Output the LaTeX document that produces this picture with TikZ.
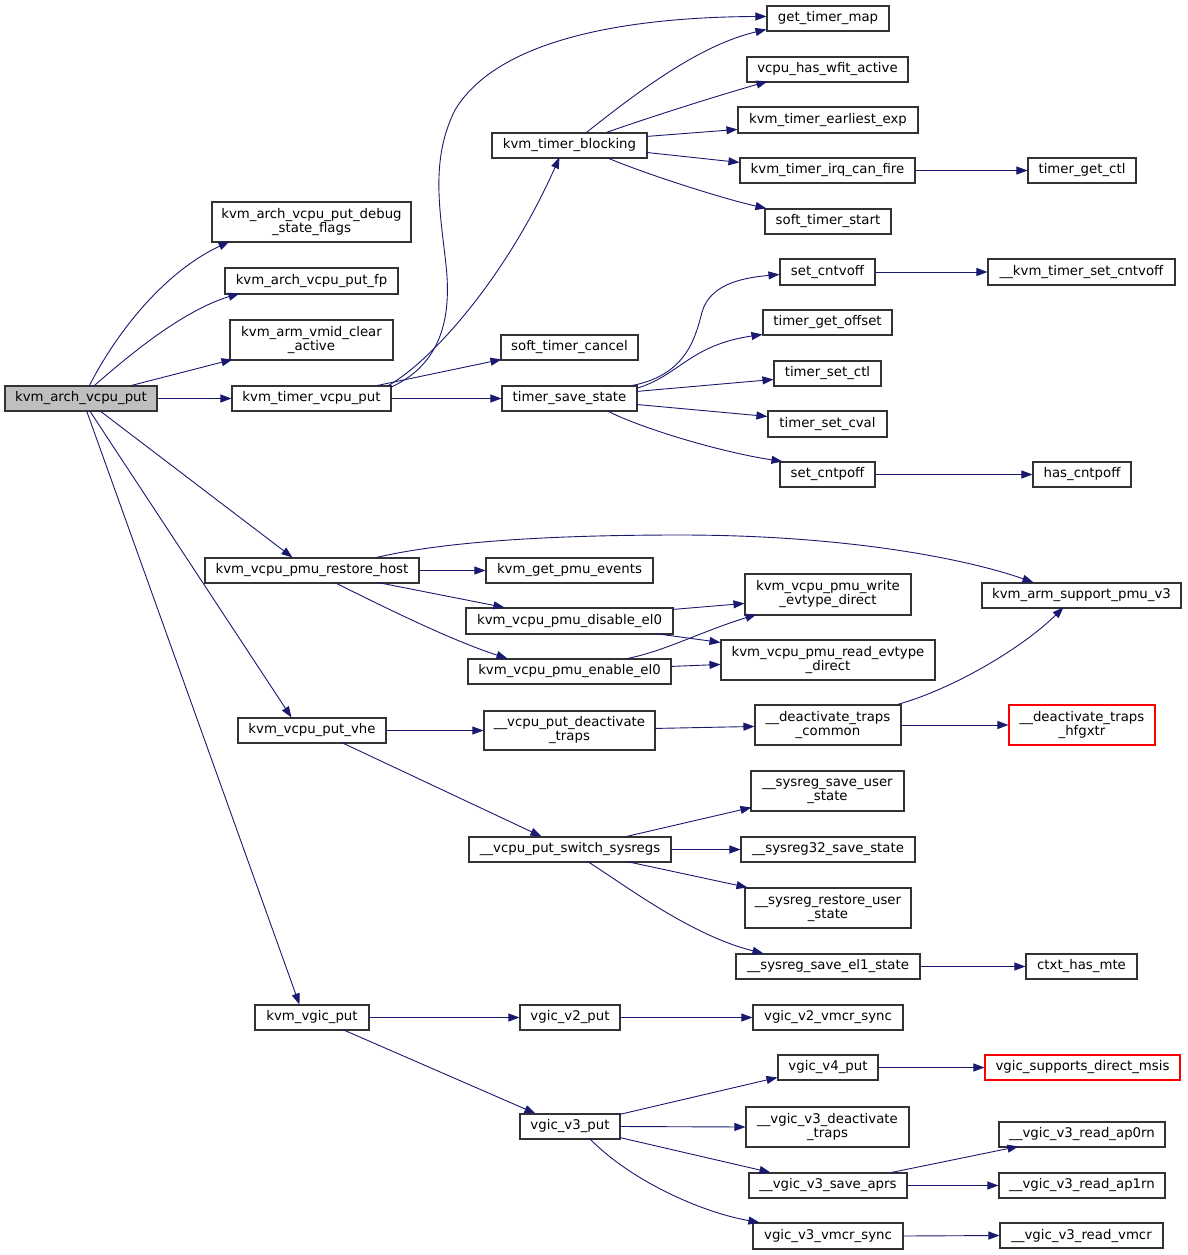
\documentclass[tikz,border=0pt]{standalone}
\usepackage{fontspec}
\setmainfont{DejaVu Sans}
\usetikzlibrary{arrows.meta}
\definecolor{edgec}{HTML}{191970}
\definecolor{nodeb}{HTML}{333333}
\definecolor{rootfill}{HTML}{BFBFBF}
\definecolor{redb}{HTML}{FF0000}
\begin{document}
\begin{tikzpicture}[x=1pt,y=-1pt,
  box/.style={draw=nodeb, line width=1.1pt, fill=white, inner sep=0pt, align=center,
    font=\fontsize{13.3}{14}\selectfont},
  sz/.style 2 args={minimum width=#1pt, minimum height=#2pt},
  root/.style={fill=rootfill},
  missing/.style={draw=redb},
  e/.style={draw=edgec, line width=0.9pt, -{Triangle[length=11pt,width=8pt]}, fill=none}]
\fill[white] (0,0) rectangle (1187,1255);
\useasboundingbox (0,0) rectangle (1187,1255);

% nodes
\node[box,root,sz={152}{25}] (A) at (81,398.5) {kvm\_arch\_vcpu\_put};
\node[box,sz={199}{40}] (B1) at (311.5,222) {kvm\_arch\_vcpu\_put\_debug\\\_state\_flags};
\node[box,sz={173}{26}] (B2) at (311.5,281) {kvm\_arch\_vcpu\_put\_fp};
\node[box,sz={163}{40}] (B3) at (311.5,340) {kvm\_arm\_vmid\_clear\\\_active};
\node[box,sz={159}{25}] (T) at (311.5,398.5) {kvm\_timer\_vcpu\_put};
\node[box,sz={155}{25}] (TB) at (569.5,145.5) {kvm\_timer\_blocking};
\node[box,sz={137}{25}] (SC) at (569.5,347.5) {soft\_timer\_cancel};
\node[box,sz={135}{25}] (TS) at (569.5,398.5) {timer\_save\_state};
\node[box,sz={122}{25}] (GM) at (828,18.5) {get\_timer\_map};
\node[box,sz={161}{25}] (WF) at (827.5,69.5) {vcpu\_has\_wfit\_active};
\node[box,sz={180}{26}] (EE) at (828,120) {kvm\_timer\_earliest\_exp};
\node[box,sz={175}{25}] (IF) at (827.5,170.5) {kvm\_timer\_irq\_can\_fire};
\node[box,sz={108}{25}] (GC) at (1082,170.5) {timer\_get\_ctl};
\node[box,sz={126}{25}] (ST) at (828,221.5) {soft\_timer\_start};
\node[box,sz={95}{26}] (SV) at (827.5,272) {set\_cntvoff};
\node[box,sz={187}{26}] (KSV) at (1081.5,272) {\_\_kvm\_timer\_set\_cntvoff};
\node[box,sz={129}{25}] (GO) at (827.5,322.5) {timer\_get\_offset};
\node[box,sz={107}{25}] (SCt) at (827.5,373.5) {timer\_set\_ctl};
\node[box,sz={119}{26}] (SCv) at (827.5,424) {timer\_set\_cval};
\node[box,sz={95}{25}] (SP) at (827.5,474.5) {set\_cntpoff};
\node[box,sz={98}{25}] (HP) at (1082,474.5) {has\_cntpoff};
\node[box,sz={214}{25}] (PR) at (312,570.5) {kvm\_vcpu\_pmu\_restore\_host};
\node[box,sz={167}{25}] (PE) at (569.5,570.5) {kvm\_get\_pmu\_events};
\node[box,sz={207}{26}] (PD) at (569.5,621) {kvm\_vcpu\_pmu\_disable\_el0};
\node[box,sz={203}{25}] (PN) at (569.5,671.5) {kvm\_vcpu\_pmu\_enable\_el0};
\node[box,sz={166}{41}] (WE) at (828,594.5) {kvm\_vcpu\_pmu\_write\\\_evtype\_direct};
\node[box,sz={214}{40}] (RE) at (828,660) {kvm\_vcpu\_pmu\_read\_evtype\\\_direct};
\node[box,sz={199}{25}] (SPV) at (1081.5,595.5) {kvm\_arm\_support\_pmu\_v3};
\node[box,sz={148}{25}] (VHE) at (312,730.5) {kvm\_vcpu\_put\_vhe};
\node[box,sz={171}{39}] (VDT) at (569.5,730.5) {\_\_vcpu\_put\_deactivate\\\_traps};
\node[box,sz={202}{25}] (VSS) at (570,849.5) {\_\_vcpu\_put\_switch\_sysregs};
\node[box,sz={146}{40}] (DTC) at (828,725) {\_\_deactivate\_traps\\\_common};
\node[box,missing,sz={146}{40}] (DTH) at (1082,725) {\_\_deactivate\_traps\\\_hfgxtr};
\node[box,sz={153}{40}] (SUS) at (827.5,791) {\_\_sysreg\_save\_user\\\_state};
\node[box,sz={174}{25}] (S32) at (828,849.5) {\_\_sysreg32\_save\_state};
\node[box,sz={166}{40}] (SRU) at (828,908) {\_\_sysreg\_restore\_user\\\_state};
\node[box,sz={184}{25}] (SE1) at (828,966.5) {\_\_sysreg\_save\_el1\_state};
\node[box,sz={111}{25}] (CHM) at (1081.5,966.5) {ctxt\_has\_mte};
\node[box,sz={114}{25}] (VG) at (312,1017.5) {kvm\_vgic\_put};
\node[box,sz={100}{25}] (V2) at (570,1017.5) {vgic\_v2\_put};
\node[box,sz={150}{25}] (V2S) at (828,1017.5) {vgic\_v2\_vmcr\_sync};
\node[box,sz={100}{25}] (V4) at (828,1067.5) {vgic\_v4\_put};
\node[box,missing,sz={195}{25}] (DMS) at (1082.5,1067.5) {vgic\_supports\_direct\_msis};
\node[box,sz={100}{25}] (V3) at (570,1126.5) {vgic\_v3\_put};
\node[box,sz={163}{40}] (V3D) at (827.5,1127) {\_\_vgic\_v3\_deactivate\\\_traps};
\node[box,sz={166}{25}] (AP0) at (1082,1134.5) {\_\_vgic\_v3\_read\_ap0rn};
\node[box,sz={158}{25}] (SA) at (828,1185.5) {\_\_vgic\_v3\_save\_aprs};
\node[box,sz={166}{25}] (AP1) at (1082,1185.5) {\_\_vgic\_v3\_read\_ap1rn};
\node[box,sz={150}{26}] (V3S) at (828,1236) {vgic\_v3\_vmcr\_sync};
\node[box,sz={163}{25}] (RV) at (1081.5,1235.5) {\_\_vgic\_v3\_read\_vmcr};

% edges
\draw[e] ([shift={(85,0)}]A.north west) .. controls (118,330) and (165,272) .. ([shift={(18,40)}]B1.north west);
\draw[e] ([shift={(90,0)}]A.north west) .. controls (135,350) and (185,310) .. ([shift={(15,26)}]B2.north west);
\draw[e] ([shift={(127,0)}]A.north west) -- ([shift={(3,40)}]B3.north west);
\draw[e] (A.east) -- (T.west);
\draw[e] ([shift={(95,25)}]A.north west) -- ([shift={(88,0)}]PR.north west);
\draw[e] ([shift={(85,25)}]A.north west) -- ([shift={(54,0)}]VHE.north west);
\draw[e] ([shift={(82,25)}]A.north west) -- ([shift={(45,0)}]VG.north west);

\draw[e] ([shift={(159,2)}]T.north west) .. controls (440,365) and (452,320) .. (446,265)
  .. controls (440,210) and (430,160) .. (455,110) .. controls (500,35) and (640,17) .. ([shift={(0,11)}]GM.north west);
\draw[e] ([shift={(157,0)}]T.north west) .. controls (430,362) and (505,280) .. ([shift={(68,25)}]TB.north west);
\draw[e] ([shift={(146,0)}]T.north west) -- ([shift={(1,25)}]SC.north west);
\draw[e] (T.east) -- (TS.west);

\draw[e] ([shift={(95,0)}]TB.north west) .. controls (640,90) and (700,45) .. ([shift={(0,24)}]GM.north west);
\draw[e] ([shift={(115,0)}]TB.north west) .. controls (650,117) and (720,95) .. ([shift={(21,25)}]WF.north west);
\draw[e] ([shift={(155,4)}]TB.north west) -- ([shift={(0,23)}]EE.north west);
\draw[e] ([shift={(155,20)}]TB.north west) -- ([shift={(0,5)}]IF.north west);
\draw[e] ([shift={(115,25)}]TB.north west) .. controls (640,172) and (720,198) .. ([shift={(2,0)}]ST.north west);
\draw[e] (IF.east) -- (GC.west);

\draw[e] ([shift={(131,0)}]TS.north west) .. controls (685,375) and (695,340) .. (702,312)
  .. controls (710,285) and (740,278) .. ([shift={(0,16)}]SV.north west);
\draw[e] ([shift={(135,3)}]TS.north west) .. controls (680,375) and (690,345) .. ([shift={(0,25)}]GO.north west);
\draw[e] ([shift={(135,6)}]TS.north west) -- ([shift={(0,19)}]SCt.north west);
\draw[e] ([shift={(135,19)}]TS.north west) -- ([shift={(0,6)}]SCv.north west);
\draw[e] ([shift={(105,25)}]TS.north west) .. controls (640,428) and (720,452) .. ([shift={(3,0)}]SP.north west);
\draw[e] (SV.east) -- (KSV.west);
\draw[e] (SP.east) -- (HP.west);

\draw[e] ([shift={(172,0)}]PR.north west) .. controls (430,545) and (520,535) .. (680,535)
  .. controls (850,535) and (970,560) .. ([shift={(52,0)}]SPV.north west);
\draw[e] (PR.east) -- (PE.west);
\draw[e] ([shift={(173,25)}]PR.north west) -- ([shift={(39,0)}]PD.north west);
\draw[e] ([shift={(130,25)}]PR.north west) .. controls (380,605) and (450,640) .. ([shift={(40,0)}]PN.north west);
\draw[e] ([shift={(207,2)}]PD.north west) -- ([shift={(0,30)}]WE.north west);
\draw[e] ([shift={(189,26)}]PD.north west) -- ([shift={(0,3)}]RE.north west);
\draw[e] ([shift={(160,0)}]PN.north west) .. controls (665,651) and (700,632) .. ([shift={(12,41)}]WE.north west);
\draw[e] ([shift={(203,8)}]PN.north west) -- ([shift={(0,25)}]RE.north west);

\draw[e] (VHE.east) -- (VDT.west);
\draw[e] ([shift={(104,25)}]VHE.north west) -- ([shift={(73,0)}]VSS.north west);
\draw[e] ([shift={(171,18)}]VDT.north west) -- ([shift={(0,22)}]DTC.north west);
\draw[e] ([shift={(143,0)}]DTC.north west) .. controls (950,690) and (1020,650) .. ([shift={(82,25)}]SPV.north west);
\draw[e] (DTC.east) -- (DTH.west);
\draw[e] ([shift={(158,0)}]VSS.north west) -- ([shift={(1,37)}]SUS.north west);
\draw[e] (VSS.east) -- (S32.west);
\draw[e] ([shift={(158,25)}]VSS.north west) -- ([shift={(3,0)}]SRU.north west);
\draw[e] ([shift={(119,25)}]VSS.north west) .. controls (625,885) and (690,935) .. ([shift={(28,0)}]SE1.north west);
\draw[e] (SE1.east) -- (CHM.west);

\draw[e] (VG.east) -- (V2.west);
\draw[e] (V2.east) -- (V2S.west);
\draw[e] ([shift={(88,25)}]VG.north west) -- ([shift={(16,0)}]V3.north west);
\draw[e] ([shift={(100,1)}]V3.north west) -- ([shift={(0,23)}]V4.north west);
\draw[e] (V4.east) -- (DMS.west);
\draw[e] (V3.east) -- (V3D.west);
\draw[e] ([shift={(100,24)}]V3.north west) -- ([shift={(22,0)}]SA.north west);
\draw[e] ([shift={(70,25)}]V3.north west) .. controls (630,1180) and (700,1212) .. ([shift={(7,0)}]V3S.north west);
\draw[e] ([shift={(143,0)}]SA.north west) -- ([shift={(20,25)}]AP0.north west);
\draw[e] (SA.east) -- (AP1.west);
\draw[e] (V3S.east) -- (RV.west);
\end{tikzpicture}
\end{document}
